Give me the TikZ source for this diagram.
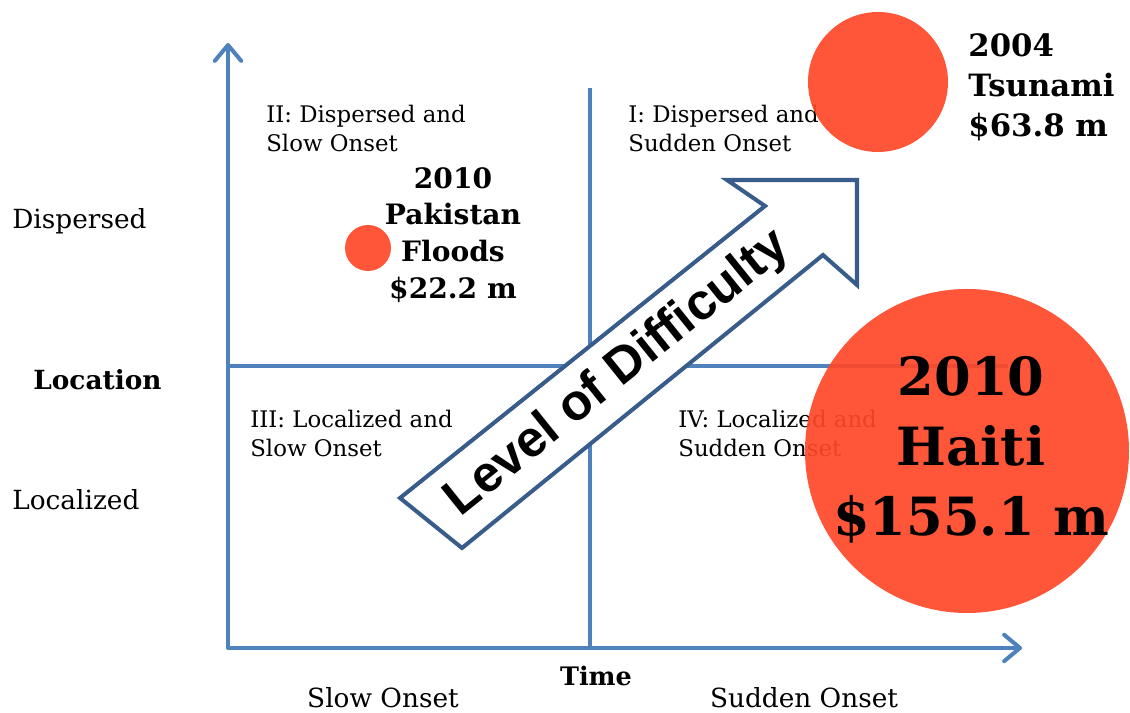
\documentclass[tikz,border=0pt]{standalone}
\usepackage{fontspec}
\setmainfont{DejaVu Serif}
\newfontfamily\arrowfont{Liberation Sans}
\usepackage{tikz}
\usetikzlibrary{arrows.meta}
\definecolor{axisblue}{RGB}{79,129,189}
\definecolor{arrowblue}{RGB}{56,93,138}
\definecolor{costred}{RGB}{255,72,40}

\begin{document}
\begin{tikzpicture}[x=0.02cm,y=0.02cm,
		axis/.style={axisblue,line width=2.3pt,line cap=round,line join=round,
			{Straight Barb[length=9pt,width=15pt,round]}-{Straight Barb[length=9pt,width=15pt,round]}},
		divider/.style={axisblue,line width=2pt},
		quad/.style={anchor=west,inner sep=0pt,align=left,font=\fontsize{13}{16.5}\selectfont},
		side/.style={inner sep=0pt,font=\fontsize{15}{17}\selectfont},
		cost/.style={fill=costred,fill opacity=0.92}]
				\useasboundingbox (0,0) rectangle (1130,713);
				% axes and quadrant lines
				\coordinate (O) at (228,65);
				\coordinate (ytip) at (228,670);
				\coordinate (xtip) at (1022,65);
				\coordinate (midtop) at (590,625);
				\coordinate (midbot) at (590,65);
				\coordinate (midleft) at (228,347);
				\coordinate (midright) at (1008,347);
				\draw[divider] (midtop) -- (midbot);
				\draw[divider] (midleft) -- (midright);
				\draw[axis] (ytip) -- (O) -- (xtip);
				% axis labels
				\node[side,anchor=west] (dispersed) at (12,492) {Dispersed};
				\node[side,anchor=west,font=\fontsize{15}{17}\bfseries] (location) at (33,333) {Location};
				\node[side,anchor=west] (localized) at (12,213) {Localized};
				\node[side,font=\fontsize{14.5}{17}\bfseries] (time) at (596,37) {Time};
				\node[side] (slow) at (383,15) {Slow Onset};
				\node[side] (sudden) at (804,15) {Sudden Onset};
				% quadrants
				\node[quad] (q2) at (266,585) {II: Dispersed and\\Slow Onset};
				\node[quad] (q1) at (628,585) {I: Dispersed and\\Sudden Onset};
				\node[quad] (q3) at (250,280) {III: Localized and\\Slow Onset};
				\node[quad] (q4) at (678,280) {IV: Localized and\\Sudden Onset};
				% difficulty arrow
				\filldraw[fill=white,draw=arrowblue,line width=2.3pt,line join=miter]
					(400,215) -- (765,507) -- (727,533) -- (857,533) -- (857,428) -- (823,458) -- (462,165) -- cycle;
				\node[rotate=38.8,font=\arrowfont\fontsize{29}{30}\bfseries] (difficulty) at (618,339) {Level of Difficulty};
				% disasters
				\fill[cost] (368,465) circle (23);
				\fill[cost] (878,631) circle (70);
				\fill[cost] (967,262) circle (162);
				\node[align=center,inner sep=0pt,font=\fontsize{16}{21}\bfseries] (pakistan) at (453,478) {2010\\Pakistan\\Floods\\\$22.2 m};
				\node[align=left,anchor=west,inner sep=0pt,font=\fontsize{17.5}{22.7}\bfseries] (tsunami) at (968,626) {2004\\Tsunami\\\$63.8 m};
				\node[align=center,inner sep=0pt,font=\fontsize{30}{40}\bfseries] (haiti) at (971,263) {2010\\Haiti\\\$155.1 m};
			\end{tikzpicture}
\end{document}
